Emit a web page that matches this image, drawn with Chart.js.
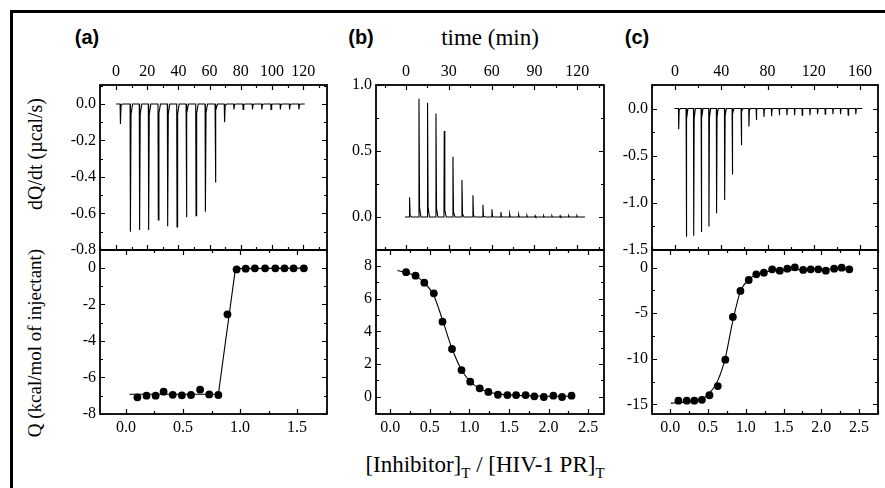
<!DOCTYPE html>
<html>
<head>
<meta charset="utf-8">
<script src="https://cdn.jsdelivr.net/npm/chart.js@4/dist/chart.umd.min.js"></script>
<style>
  html, body { margin: 0; padding: 0; background: #fff; }
  body { width: 885px; height: 488px; position: relative; overflow: hidden; font-family: 'Liberation Serif', serif; color: #000; }
  canvas { position: absolute; }
  .frame { position: absolute; left: 10px; top: 10px; width: 900px; height: 500px; border: 3px solid #000; box-sizing: border-box; }
  .lbl { position: absolute; white-space: nowrap; transform: translate(-50%, -50%); }
  .tag { font-family: 'Liberation Sans', sans-serif; font-weight: bold; font-size: 20px; }
  .rot { transform: translate(-50%, -50%) rotate(-90deg); }
</style>
</head>
<body>
<div class="frame"></div>
<div class="lbl tag" style="left:87px; top:37px;">(a)</div>
<div class="lbl tag" style="left:361px; top:37px;">(b)</div>
<div class="lbl tag" style="left:637px; top:37px;">(c)</div>
<div class="lbl" style="left:490px; top:38px; font-size:23px;">time (min)</div>
<div class="lbl rot" style="left:35px; top:154px; font-size:20px;">dQ/dt (µcal/s)</div>
<div class="lbl rot" style="left:35px; top:343px; font-size:19px;">Q (kcal/mol of injectant)</div>
<div class="lbl" style="left:485px; top:467px; font-size:23px;">[Inhibitor]<sub style="font-size:15px;">T</sub> / [HIV-1 PR]<sub style="font-size:15px;">T</sub></div>

<canvas id="topA"></canvas>
<canvas id="topB"></canvas>
<canvas id="topC"></canvas>
<canvas id="botA"></canvas>
<canvas id="botB"></canvas>
<canvas id="botC"></canvas>

<script>
// raw ITC traces: injection times (min) and peak heights (µcal/s)
var injTimeA = [2.6, 9.0, 14.9, 20.7, 26.9, 32.9, 38.9, 44.9, 51.1, 57.1, 63.5, 69.4, 75.4, 81.3, 87.3, 93.3, 99.2, 105.2, 111.1, 117.1];
var peakA = [-0.11, -0.70, -0.69, -0.69, -0.636, -0.67, -0.674, -0.62, -0.612, -0.59, -0.43, -0.10, -0.03, -0.03, -0.03, -0.03, -0.03, -0.03, -0.03, -0.03];
var injTimeB = [2.3, 8.9, 14.9, 20.8, 26.6, 32.7, 39.0, 46.7, 53.7, 60.0, 66.3, 72.4, 78.7, 84.5, 90.3, 96.2, 102.0, 107.8, 113.7, 119.5];
var peakB = [0.149, 0.896, 0.866, 0.785, 0.652, 0.457, 0.28, 0.164, 0.093, 0.058, 0.038, 0.023, 0.018, 0.012, 0.01, 0.01, 0.01, 0.01, 0.01, 0.01];
var injTimeC = [2.9, 9.5, 15.9, 22.5, 29.1, 35.7, 42.7, 49.3, 57.1, 63.7, 70.1, 76.7, 83.3, 90.0, 96.6, 103.2, 109.8, 116.5, 123.1, 129.7, 136.4, 143.0, 149.6, 156.2];
var peakC = [-0.22, -1.36, -1.35, -1.31, -1.25, -1.11, -0.97, -0.70, -0.39, -0.19, -0.12, -0.09, -0.08, -0.07, -0.07, -0.07, -0.07, -0.07, -0.06, -0.06, -0.06, -0.06, -0.07, -0.06];
var traceSpanA = [0, 121];
var traceSpanB = [-0.7, 125.4];
var traceSpanC = [-0.6, 162];

// integrated heats vs molar ratio
var ratioA = [0.10, 0.18, 0.26, 0.33, 0.41, 0.49, 0.57, 0.65, 0.73, 0.81, 0.89, 0.97, 1.05, 1.13, 1.22, 1.31, 1.39, 1.47, 1.56];
var heatA = [-7.09, -7.0, -7.0, -6.78, -6.95, -6.98, -6.96, -6.67, -6.93, -6.96, -2.55, -0.09, -0.05, -0.03, -0.03, -0.03, -0.03, -0.03, -0.03];
var fitRatioA = [0.03, 0.81, 0.96, 1.56];
var fitHeatA = [-6.92, -6.92, -0.05, -0.02];

var ratioB = [0.20, 0.32, 0.43, 0.55, 0.66, 0.78, 0.90, 1.01, 1.13, 1.24, 1.36, 1.48, 1.59, 1.71, 1.82, 1.94, 2.06, 2.17, 2.29];
var heatB = [7.62, 7.41, 6.98, 6.33, 4.59, 2.92, 1.63, 0.92, 0.51, 0.29, 0.12, 0.10, 0.10, 0.10, 0.02, -0.02, 0.06, -0.02, 0.06];
var fitRatioB = [0.09, 0.20, 0.32, 0.43, 0.55, 0.66, 0.78, 0.90, 1.01, 1.13, 1.24, 1.36, 1.59, 1.82, 2.06, 2.29];
var fitHeatB = [7.72, 7.60, 7.38, 6.98, 6.20, 4.70, 2.95, 1.65, 0.92, 0.50, 0.29, 0.17, 0.08, 0.05, 0.03, 0.03];

var ratioC = [0.11, 0.22, 0.32, 0.42, 0.52, 0.63, 0.73, 0.83, 0.93, 1.04, 1.14, 1.24, 1.35, 1.45, 1.55, 1.65, 1.76, 1.86, 1.96, 2.06, 2.17, 2.27, 2.37];
var heatC = [-14.6, -14.6, -14.6, -14.5, -14.0, -13.0, -10.1, -5.4, -2.55, -1.35, -0.73, -0.55, -0.18, -0.33, -0.11, 0.04, -0.25, -0.18, -0.18, -0.33, -0.11, 0.0, -0.18];
var fitRatioC = [0.01, 0.11, 0.22, 0.32, 0.42, 0.52, 0.63, 0.73, 0.83, 0.93, 1.04, 1.14, 1.24, 1.45, 1.76, 2.06, 2.37];
var fitHeatC = [-14.87, -14.8, -14.75, -14.65, -14.4, -13.8, -12.4, -9.9, -5.8, -2.6, -1.3, -0.75, -0.5, -0.3, -0.2, -0.15, -0.14];

// tick labels
var timeTicksA = [0, 20, 40, 60, 80, 100, 120];
var timeTicksB = [0, 30, 60, 90, 120];
var timeTicksC = [0, 40, 80, 120, 160];
var rateTicksA = [0.0, -0.2, -0.4, -0.6, -0.8];
var rateTicksB = [1.0, 0.5, 0.0];
var rateTicksC = [0.0, -0.5, -1.0, -1.5];
var ratioTicksA = [0.0, 0.5, 1.0, 1.5];
var ratioTicksBC = [0.0, 0.5, 1.0, 1.5, 2.0, 2.5];
var heatTicksA = [0, -2, -4, -6, -8];
var heatTicksB = [0, 2, 4, 6, 8];
var heatTicksC = [0, -5, -10, -15];

Chart.defaults.font.family = "'Liberation Serif', serif";
Chart.defaults.font.size = 16;
Chart.defaults.color = '#000';

function minors(major, min, max) {
    var s = [...major].sort(function (a, b) { return a - b; });
    var step = s[1] - s[0];
    var out = [];
    for (var v = s[0] - step / 2; v <= max + 1e-9; v += step) {
        if (v >= min - 1e-9) out.push(v);
    }
    return out;
}

var frameTicks = {
    id: 'frameTicks',
    afterDatasetsDraw: function (chart) {
        var ctx = chart.ctx, a = chart.chartArea;
        var xs = chart.scales.x, ys = chart.scales.y;
        var o = chart.options.plugins.frameTicks;
        ctx.save();
        ctx.strokeStyle = '#000';
        ctx.lineWidth = 1.2;
        ctx.beginPath();
        function xt(vals, len) {
            vals.forEach(function (v) {
                var p = Math.round(xs.getPixelForValue(v)) + 0.5;
                ctx.moveTo(p, a.top); ctx.lineTo(p, a.top + len);
                ctx.moveTo(p, a.bottom); ctx.lineTo(p, a.bottom - len);
            });
        }
        function yt(vals, len) {
            vals.forEach(function (v) {
                var p = Math.round(ys.getPixelForValue(v)) + 0.5;
                ctx.moveTo(a.left, p); ctx.lineTo(a.left + len, p);
                ctx.moveTo(a.right, p); ctx.lineTo(a.right - len, p);
            });
        }
        xt(o.xMajor, 5); xt(minors(o.xMajor, xs.min, xs.max), 3);
        yt(o.yMajor, 5); yt(minors(o.yMajor, ys.min, ys.max), 3);
        ctx.stroke();
        ctx.lineWidth = 1.8;
        ctx.strokeRect(a.left, a.top, a.right - a.left, a.bottom - a.top);
        ctx.restore();
    }
};

function trace(times, peaks, span) {
    var pts = [{ x: span[0], y: 0 }];
    times.forEach(function (t, i) {
        var p = peaks[i];
        pts.push({ x: t, y: 0 }, { x: t + 0.2, y: p }, { x: t + 0.6, y: p * 0.08 }, { x: t + 1.6, y: 0 });
    });
    pts.push({ x: span[1], y: 0 });
    return pts;
}

function xy(xv, yv) {
    return xv.map(function (v, i) { return { x: v, y: yv[i] }; });
}

function panel(id, rect, isTop, datasets, xr, yr, xTicks, yTicks, xDec, yDec) {
    var cv = document.getElementById(id);
    var w = rect[2] - rect[0], h = rect[3] - rect[1];
    cv.width = w + 66; cv.height = h + 60;
    cv.style.left = (rect[0] - 60) + 'px';
    cv.style.top = (rect[1] - 30) + 'px';
    new Chart(cv, {
        type: 'scatter',
        data: { datasets: datasets },
        options: {
            responsive: false,
            animation: false,
            devicePixelRatio: 1,
            layout: { padding: isTop ? { bottom: 30, right: 6 } : { top: 30, right: 6 } },
            plugins: {
                legend: { display: false },
                tooltip: { enabled: false },
                frameTicks: { xMajor: xTicks, yMajor: yTicks }
            },
            scales: {
                x: {
                    type: 'linear',
                    position: isTop ? 'top' : 'bottom',
                    min: xr[0], max: xr[1],
                    grid: { display: false, drawTicks: false },
                    border: { display: false },
                    afterBuildTicks: function (s) { s.ticks = xTicks.map(function (v) { return { value: v }; }); },
                    afterFit: function (s) { s.height = 30; },
                    ticks: {
                        autoSkip: false, maxRotation: 0, padding: 4,
                        callback: function (v) { return Number(v).toFixed(xDec); }
                    }
                },
                y: {
                    type: 'linear',
                    min: yr[0], max: yr[1],
                    grid: { display: false, drawTicks: false },
                    border: { display: false },
                    afterBuildTicks: function (s) { s.ticks = yTicks.map(function (v) { return { value: v }; }); },
                    afterFit: function (s) { s.width = 60; },
                    ticks: {
                        autoSkip: false, padding: 4,
                        callback: function (v) { return Number(v).toFixed(yDec); }
                    }
                }
            }
        },
        plugins: [frameTicks]
    });
}

function rawSet(times, peaks, span) {
    return [{
        data: trace(times, peaks, span),
        showLine: true, borderColor: '#000', borderWidth: 1.1,
        pointRadius: 0, tension: 0
    }];
}

function isoSets(xv, yv, fx, fy, curved) {
    return [
        {
            data: xy(fx, fy), showLine: true, borderColor: '#000', borderWidth: 1.1,
            pointRadius: 0, tension: 0, cubicInterpolationMode: curved ? 'monotone' : 'default'
        },
        {
            data: xy(xv, yv), showLine: false, pointRadius: 3.9,
            backgroundColor: '#000', borderColor: '#000', pointBorderWidth: 0
        }
    ];
}

panel('topA', [100, 85, 327, 250], true, rawSet(injTimeA, peakA, traceSpanA), [-10.3, 135.3], [-0.8, 0.104], timeTicksA, rateTicksA, 0, 1);
panel('topB', [376, 85, 604, 250], true, rawSet(injTimeB, peakB, traceSpanB), [-21, 138.7], [-0.25, 1.0], timeTicksB, rateTicksB, 0, 1);
panel('topC', [652, 85, 878, 250], true, rawSet(injTimeC, peakC, traceSpanC), [-20, 175.6], [-1.5, 0.25], timeTicksC, rateTicksC, 0, 1);

panel('botA', [100, 250, 327, 414], false, isoSets(ratioA, heatA, fitRatioA, fitHeatA, false), [-0.228, 1.763], [-8, 0.97], ratioTicksA, heatTicksA, 1, 0);
panel('botB', [376, 250, 604, 414], false, isoSets(ratioB, heatB, fitRatioB, fitHeatB, true), [-0.18, 2.70], [-1.06, 8.98], ratioTicksBC, heatTicksB, 1, 0);
panel('botC', [652, 250, 878, 414], false, isoSets(ratioC, heatC, fitRatioC, fitHeatC, true), [-0.24, 2.75], [-16.06, 1.94], ratioTicksBC, heatTicksC, 1, 0);
</script>
</body>
</html>
